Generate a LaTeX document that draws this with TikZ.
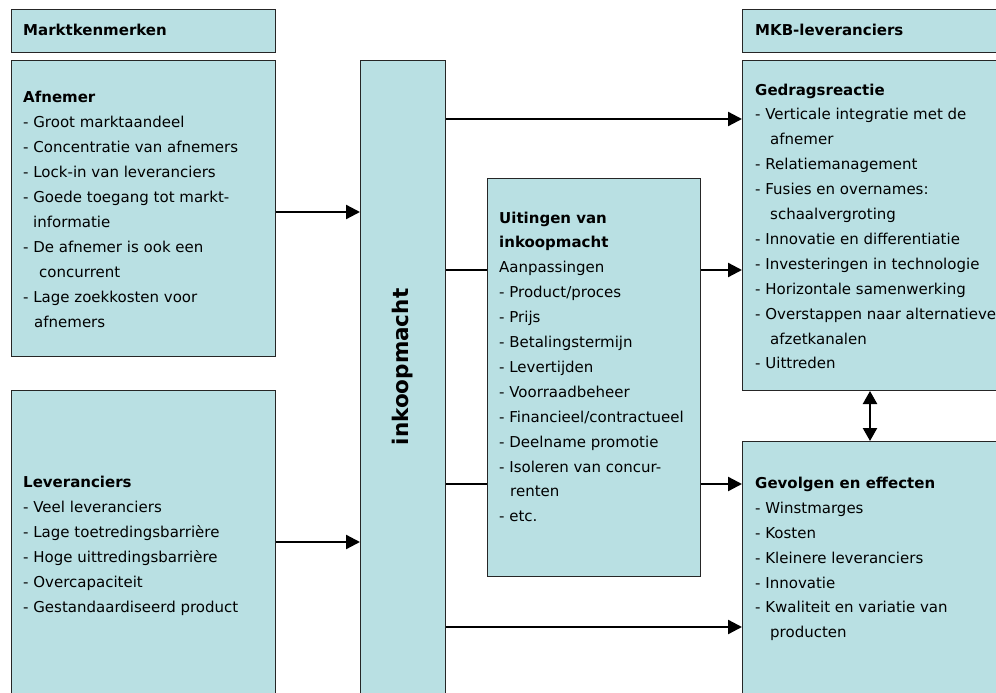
\documentclass[tikz,border=0pt]{standalone}
\usepackage{fontspec}
\setmainfont{DejaVu Sans}
\usetikzlibrary{arrows.meta}
\definecolor{boxfill}{RGB}{185,224,227}
\pgfdeclarelayer{background}
\pgfsetlayers{background,main}
\newcommand{\ind}[1]{\hspace*{#1pt}}
\begin{document}
\begin{tikzpicture}[x=1pt,y=-1pt,
  box/.style={draw=black!85, line width=1pt, fill=boxfill, anchor=north west, inner sep=0pt},
  txt/.style={anchor=west, inner sep=0pt, align=left, font=\fontsize{15}{24.9}\selectfont},
  head/.style={anchor=west, inner sep=0pt, font=\fontsize{15}{18}\selectfont\bfseries},
  conn/.style={line width=2.3pt},
  arr/.style={conn, -{Triangle[length=14pt,width=14pt]}},
  darr/.style={conn, {Triangle[length=13pt,width=14pt]}-{Triangle[length=13pt,width=14pt]}},
]
\useasboundingbox (0,0) rectangle (996,693);
\clip (0,0) rectangle (996,693);

% boxes
\node[box, minimum width=264pt, minimum height=43pt] (mk) at (11,9) {};
\node[box, minimum width=264pt, minimum height=296pt] (afn) at (11,60) {};
\node[box, minimum width=264pt, minimum height=330pt] (lev) at (11,390) {};
\node[box, minimum width=85pt, minimum height=660pt] (ink) at (360,60) {};
\node[box, minimum width=213pt, minimum height=398pt] (uit) at (487,178) {};
\node[box, minimum width=268pt, minimum height=43pt] (mkb) at (742,9) {};
\node[box, minimum width=268pt, minimum height=330pt] (ged) at (742,60) {};
\node[box, minimum width=268pt, minimum height=279pt] (gev) at (742,441) {};

% texts
\node[head] (mk-t) at (23,30) {Marktkenmerken};
\node[head] (mkb-t) at (755,30) {MKB-leveranciers};

\node[txt] (afn-t) at (23,209.4) {\textbf{Afnemer}\\
- Groot marktaandeel\\
- Concentratie van afnemers\\
- Lock-in van leveranciers\\
- Goede toegang tot markt-\\
\ind{10}informatie\\
- De afnemer is ook een\\
\ind{16}concurrent\\
- Lage zoekkosten voor\\
\ind{11}afnemers};

\node[txt] (lev-t) at (23,546) {\textbf{Leveranciers}\\
- Veel leveranciers\\
- Lage toetredingsbarrière\\
- Hoge uittredingsbarrière\\
- Overcapaciteit\\
- Gestandaardiseerd product};

\node[rotate=90, inner sep=0pt, font=\fontsize{21.5}{26}\selectfont\bfseries] (ink-t) at (403,367) {inkoopmacht};

\node[txt] (uit-t) at (499,366.9) {\textbf{Uitingen van}\\
\textbf{inkoopmacht}\\
Aanpassingen\\
- Product/proces\\
- Prijs\\
- Betalingstermijn\\
- Levertijden\\
- Voorraadbeheer\\
- Financieel/contractueel\\
- Deelname promotie\\
- Isoleren van concur-\\
\ind{11}renten\\
- etc.};

\node[txt] (ged-t) at (755,226.4) {\textbf{Gedragsreactie}\\
- Verticale integratie met de\\
\ind{15}afnemer\\
- Relatiemanagement\\
- Fusies en overnames:\\
\ind{15}schaalvergroting\\
- Innovatie en differentiatie\\
- Investeringen in technologie\\
- Horizontale samenwerking\\
- Overstappen naar alternatieve\\
\ind{15}afzetkanalen\\
- Uittreden};

\node[txt] (gev-t) at (755,559) {\textbf{Gevolgen en effecten}\\
- Winstmarges\\
- Kosten\\
- Kleinere leveranciers\\
- Innovatie\\
- Kwaliteit en variatie van\\
\ind{15}producten};

% row levels
\coordinate (r1) at (0,119);
\coordinate (r2) at (0,212);
\coordinate (r3) at (0,270);
\coordinate (r4) at (0,484);
\coordinate (r5) at (0,542);
\coordinate (r6) at (0,627);
\coordinate (c1) at (870,0);

% connectors
\draw[arr] (afn.east |- r2) -- (ink.west |- r2);
\draw[arr] (lev.east |- r5) -- (ink.west |- r5);
\draw[arr] (ink.east |- r1) -- (ged.west |- r1);
\draw[conn] (ink.east |- r3) -- (uit.west |- r3);
\draw[arr] (uit.east |- r3) -- (ged.west |- r3);
\begin{pgfonlayer}{background}
\draw[arr] (ink.east |- r4) -- (gev.west |- r4);
\end{pgfonlayer}
\draw[arr] (ink.east |- r6) -- (gev.west |- r6);
\draw[darr] (ged.south -| c1) -- (gev.north -| c1);
\end{tikzpicture}
\end{document}
